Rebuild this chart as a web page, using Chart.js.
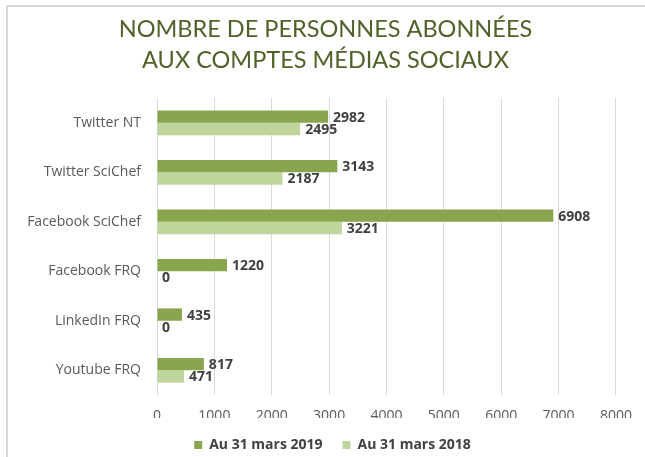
<!DOCTYPE html>
<html>
<head>
<meta charset="utf-8">
<script src="https://cdn.jsdelivr.net/npm/chart.js@4"></script>
<style>
  html, body { margin: 0; padding: 0; background: #fff; }
  #wrap { position: relative; width: 645px; height: 457px; }
  #frame { position: absolute; left: 6px; top: 5px; right: 0; bottom: 0;
           border-left: 2px solid #d9d9d9; border-top: 2px solid #d9d9d9; }
  canvas { position: absolute; left: 0; top: 0; }
</style>
</head>
<body>
<div id="wrap">
  <div id="frame"></div>
  <canvas id="chart" width="645" height="457"></canvas>
</div>
<script>
// données
const comptes = ["Twitter NT", "Twitter SciChef", "Facebook SciChef", "Facebook FRQ", "LinkedIn FRQ", "Youtube FRQ"];
const abonnes2019 = [2982, 3143, 6908, 1220, 435, 817];
const abonnes2018 = [2495, 2187, 3221, 0, 0, 471];
const ticksX = [0, 1000, 2000, 3000, 4000, 5000, 6000, 7000, 8000];

// étiquettes de valeurs au bout des barres
const valeurs = {
  id: "valeurs",
  afterDatasetsDraw(chart) {
    const ctx = chart.ctx;
    ctx.save();
    ctx.font = "bold 14px 'Open Sans', sans-serif";
    ctx.fillStyle = "#404040";
    ctx.textBaseline = "middle";
    ctx.textAlign = "left";
    chart.data.datasets.forEach((ds, i) => {
      chart.getDatasetMeta(i).data.forEach((bar, j) => {
        ctx.fillText(ds.data[j], bar.x + 5, bar.y + 1);
      });
    });
    ctx.restore();
  }
};

// recentrer titre et légende sur toute la largeur
const recentrer = {
  id: "recentrer",
  afterLayout(chart) {
    [[chart.titleBlock, 10], [chart.legend, 17]].forEach(([b, dx]) => {
      if (b) { b.left += dx; b.right += dx; }
    });
  }
};

let ctx = document.getElementById("chart").getContext("2d");
let chart = new Chart(ctx, {
  type: "bar",
  data: {
    labels: comptes,
    datasets: [
      { label: "Au 31 mars 2019", data: abonnes2019, backgroundColor: "#89a54e" },
      { label: "Au 31 mars 2018", data: abonnes2018, backgroundColor: "#bfd59c" }
    ]
  },
  options: {
    indexAxis: "y",
    responsive: false,
    animation: false,
    categoryPercentage: 0.5,
    barPercentage: 1,
    layout: { padding: { left: 14, right: 28, top: 0, bottom: -5 } },
    scales: {
      x: {
        min: 0, max: 8000,
        afterBuildTicks: s => { s.ticks = ticksX.map(v => ({ value: v })); },
        afterFit: s => { s.height = 23; },
        grid: { color: "#d9d9d9", drawTicks: false },
        border: { display: false },
        ticks: {
          color: "#595959", padding: 13,
          font: { family: "'Open Sans', sans-serif", size: 14 },
          callback: v => String(v)
        }
      },
      y: {
        afterFit: s => { s.width = 143; },
        grid: { display: false },
        border: { display: false },
        ticks: { color: "#595959", padding: 8, font: { family: "'Open Sans', sans-serif", size: 14 } }
      }
    },
    plugins: {
      title: {
        display: true,
        text: ["NOMBRE DE PERSONNES ABONNÉES", "AUX COMPTES MÉDIAS SOCIAUX"],
        color: "#4f6228",
        font: { family: "Lato, sans-serif", size: 23.5, weight: "normal", lineHeight: 1.32 },
        padding: { top: 14, bottom: 22 }
      },
      legend: {
        position: "bottom",
        labels: {
          boxWidth: 8, boxHeight: 8,
          color: "#404040",
          padding: 20,
          font: { family: "'Open Sans', sans-serif", size: 14, weight: "bold" }
        }
      },
      tooltip: { enabled: false }
    }
  },
  plugins: [valeurs, recentrer]
});
</script>
</body>
</html>
